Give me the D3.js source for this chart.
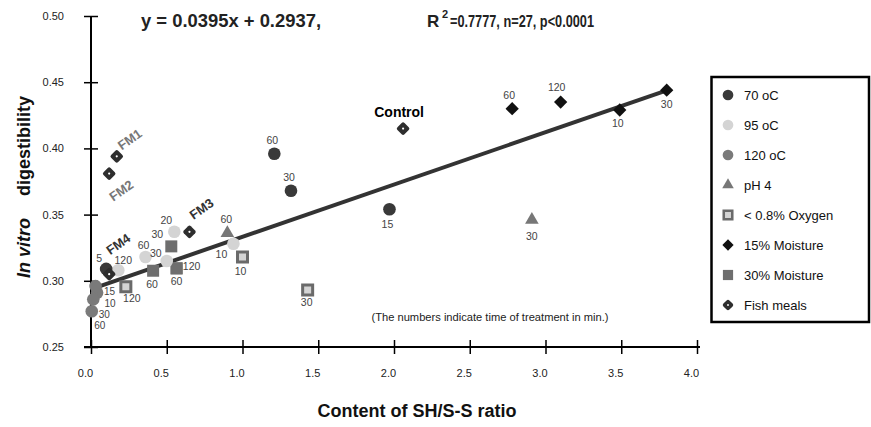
<!DOCTYPE html>
<html>
<head>
<meta charset="utf-8">
<script src="https://cdn.jsdelivr.net/npm/d3@7/dist/d3.min.js"></script>
<style>
	body { margin: 0; background: #fff; }
	svg { display: block; }
	text { font-family: "Liberation Sans", Arial, sans-serif; }
	.bold { font-weight: bold; }
</style>
</head>
<body>
<svg id="chart" width="871" height="427"></svg>
<script>
// categories of the legend
var categories = ["70 oC", "95 oC", "120 oC", "pH 4", "< 0.8% Oxygen", "15% Moisture", "30% Moisture", "Fish meals"];

// [SH/S-S ratio, in vitro digestibility, time label]
var pts70 = [[0.10, 0.309, "5"], [1.97, 0.354, "15"], [1.32, 0.368, "30"], [1.21, 0.396, "60"]];
var pts95 = [[0.94, 0.328, "10"], [0.55, 0.337, "20"], [0.50, 0.315, "30"], [0.36, 0.318, "60"], [0.18, 0.308, "120"]];
var pts120 = [[0.04, 0.291, "10"], [0.03, 0.296, "15"], [0.015, 0.286, "30"], [0.005, 0.277, "60"]];
var ptsPH4 = [[2.91, 0.346, "30"], [0.90, 0.336, "60"]];
var ptsOxygen = [[1.00, 0.318, "10"], [1.43, 0.293, "30"], [0.23, 0.2955, "120"]];
var ptsMoist15 = [[3.49, 0.429, "10"], [3.80, 0.444, "30"], [2.78, 0.430, "60"], [3.10, 0.435, "120"]];
var ptsMoist30 = [[0.53, 0.326, "30"], [0.41, 0.3076, "60"], [0.565, 0.3094, "60"], [0.565, 0.3094, "120"]];
var ptsFish = [[0.17, 0.394, "FM1"], [0.12, 0.381, "FM2"], [0.65, 0.337, "FM3"], [0.12, 0.305, "FM4"], [2.06, 0.415, "Control"]];

var xTicks = [0, 0.5, 1, 1.5, 2, 2.5, 3, 3.5, 4];
var yTicks = [0.25, 0.30, 0.35, 0.40, 0.45, 0.50];

// regression from the caption
var slope = 0.0395, intercept = 0.2937;
var fitRange = [0.05, 3.82];

// label offsets (px) for each point, same order as the arrays above
var labelOffsets = {
	"70 oC": [[-7, -7], [-2, 19], [-2, -10], [-2, -10]],
	"95 oC": [[-12, 14], [-8, -8], [-11, -4], [-2, -8], [5, -6]],
	"120 oC": [[13, 14], [14, 9], [11, 19], [8, 18]],
	"pH 4": [[0, 20], [-1, -10]],
	"< 0.8% Oxygen": [[-2, 18], [-1, 16], [6, 15]],
	"15% Moisture": [[-2, 17], [0, 18], [-3, -10], [-4, -11]],
	"30% Moisture": [[-14, -8], [-1, 17], [0, 17], [15, 2]],
	"Fish meals": [[13, -17], [12, 17], [12, -23], [9, -30], [-4, -12]]
};

var svg = d3.select("#chart");

var x = d3.scaleLinear().domain([0, 4]).range([91, 697]);
var y = d3.scaleLinear().domain([0.25, 0.50]).range([347, 16]);

// axes
var xAxis = svg.append("g")
	.attr("transform", "translate(0," + y(0.25) + ")")
	.call(d3.axisBottom(x).tickValues(xTicks).tickSize(7).tickPadding(15).tickFormat(d3.format(".1f")));
xAxis.select(".domain").attr("d", "M84,0H700").attr("stroke", "#000").attr("stroke-width", 2);
xAxis.selectAll(".tick line").attr("y1", -7).attr("stroke", "#000").attr("stroke-width", 1.5);
xAxis.selectAll(".tick text").attr("x", -6).attr("font-size", 11).attr("fill", "#222");

var yAxis = svg.append("g")
	.attr("transform", "translate(" + x(0) + ",0)")
	.call(d3.axisLeft(y).tickValues(yTicks).tickSize(7).tickPadding(20).tickFormat(d3.format(".2f")));
yAxis.select(".domain").attr("d", "M0," + y(0.25) + "V" + y(0.50)).attr("stroke", "#000").attr("stroke-width", 2);
yAxis.selectAll(".tick line").attr("x1", 7).attr("stroke", "#000").attr("stroke-width", 1.5);
yAxis.selectAll(".tick text").attr("font-size", 11).attr("fill", "#222");

// regression line
svg.append("path")
	.datum(fitRange)
	.attr("fill", "none")
	.attr("stroke", "#333")
	.attr("stroke-width", 4)
	.attr("d", d3.line()
		.x(function(d) { return x(d); })
		.y(function(d) { return y(intercept + slope * d); }));

// marker styles per category
var styles = {
	"70 oC": {shape: d3.symbolCircle, size: 125, fill: "#393939"},
	"95 oC": {shape: d3.symbolCircle, size: 125, fill: "#d4d4d4"},
	"120 oC": {shape: d3.symbolCircle, size: 125, fill: "#7a7a7a"},
	"pH 4": {shape: d3.symbolTriangle, size: 80, fill: "#777"},
	"< 0.8% Oxygen": {shape: d3.symbolSquare, size: 100, fill: "#d4d4d4", stroke: "#6a6a6a", sw: 3},
	"15% Moisture": {shape: d3.symbolSquare, size: 88, fill: "#111", rot: 45},
	"30% Moisture": {shape: d3.symbolSquare, size: 144, fill: "#6e6e6e"},
	"Fish meals": {fish: true}
};

var seriesData = [pts70, pts95, pts120, ptsPH4, ptsOxygen, ptsMoist15, ptsMoist30, ptsFish];
var drawOrder = [2, 6, 4, 1, 0, 3, 5, 7];

function drawMarker(g, st, scale) {
	if (st.fish) {
		g.append("rect")
			.attr("x", -5 * scale).attr("y", -5 * scale)
			.attr("width", 10 * scale).attr("height", 10 * scale)
			.attr("rx", 2).attr("ry", 2)
			.attr("transform", "rotate(45)")
			.attr("fill", "#2e2e2e");
		g.append("circle").attr("r", 1.1 * scale).attr("fill", "#fff");
		return;
	}
	g.append("path")
		.attr("d", d3.symbol().type(st.shape).size(st.size * scale * scale)())
		.attr("transform", st.rot ? "rotate(" + st.rot + ")" : null)
		.attr("fill", st.fill)
		.attr("stroke", st.stroke || "none")
		.attr("stroke-width", st.sw ? st.sw * scale : 0);
}

drawOrder.forEach(function(si) {
	var cat = categories[si];
	var grp = svg.append("g").classed("series", true);
	var marks = grp.selectAll("g.pt")
		.data(seriesData[si])
		.enter()
		.append("g")
		.classed("pt", true)
		.attr("transform", function(d) {
			return "translate(" + x(d[0]) + "," + y(d[1]) + ")";
		});
	marks.each(function() { drawMarker(d3.select(this), styles[cat], 1); });
});

// point labels on top
drawOrder.forEach(function(si) {
	var cat = categories[si];
	var offs = labelOffsets[cat];
	svg.append("g").selectAll("text")
		.data(seriesData[si])
		.enter()
		.append("text")
		.attr("text-anchor", "middle")
		.attr("transform", function(d, i) {
			var px = x(d[0]) + offs[i][0], py = y(d[1]) + offs[i][1];
			if (cat == "Fish meals" && d[2] != "Control") {
				return "translate(" + px + "," + py + ") rotate(-35)";
			}
			return "translate(" + px + "," + py + ")";
		})
		.attr("dy", function(d) { return (cat == "Fish meals" && d[2] != "Control") ? "0.35em" : 0; })
		.attr("font-size", function(d) {
			if (d[2] == "Control") return 14;
			if (cat == "Fish meals") return 13;
			return cat == "120 oC" ? 10 : 10.5;
		})
		.attr("font-weight", cat == "Fish meals" ? "bold" : null)
		.attr("fill", function(d) {
			if (d[2] == "Control") return "#000";
			if (d[2] == "FM1" || d[2] == "FM2") return "#777";
			if (cat == "Fish meals") return "#333";
			return "#444";
		})
		.text(function(d) { return d[2]; });
});

// note
svg.append("text")
	.attr("x", 490).attr("y", 321)
	.attr("text-anchor", "middle")
	.attr("font-size", 11.5)
	.attr("fill", "#222")
	.attr("textLength", 237)
	.attr("lengthAdjust", "spacingAndGlyphs")
	.text("(The numbers indicate time of treatment in min.)");

// equation caption
svg.append("text").classed("bold", true)
	.attr("x", 141).attr("y", 27)
	.attr("font-size", 18).attr("fill", "#222")
	.attr("textLength", 180)
	.attr("lengthAdjust", "spacingAndGlyphs")
	.text("y = 0.0395x + 0.2937,");

svg.append("text").classed("bold", true)
	.attr("x", 427).attr("y", 27)
	.attr("font-size", 17).attr("fill", "#222")
	.text("R");
svg.append("text").classed("bold", true)
	.attr("x", 442).attr("y", 18)
	.attr("font-size", 11).attr("fill", "#222")
	.text("2");
svg.append("text").classed("bold", true)
	.attr("x", 450).attr("y", 27)
	.attr("font-size", 17).attr("fill", "#222")
	.attr("textLength", 144)
	.attr("lengthAdjust", "spacingAndGlyphs")
	.text("=0.7777, n=27, p<0.0001");

// axis titles
svg.append("text").classed("bold", true)
	.attr("x", 417).attr("y", 417)
	.attr("text-anchor", "middle")
	.attr("font-size", 18)
	.attr("fill", "#111")
	.text("Content of SH/S-S ratio");

var yTitle = svg.append("text").classed("bold", true)
	.attr("transform", "translate(30,278) rotate(-90)")
	.attr("font-size", 18)
	.attr("fill", "#111");
yTitle.append("tspan").attr("font-style", "italic").text("In vitro");
yTitle.append("tspan").attr("dx", 22).text("digestibility");

// legend
var legend = svg.append("g");
legend.append("rect")
	.attr("x", 711.5).attr("y", 77)
	.attr("width", 157.5).attr("height", 245)
	.attr("fill", "#fff")
	.attr("stroke", "#000")
	.attr("stroke-width", 2.5);

var items = legend.selectAll("g.item")
	.data(categories)
	.enter()
	.append("g")
	.classed("item", true)
	.attr("transform", function(d, i) { return "translate(728," + (95 + i * 30) + ")"; });

items.each(function(d) { drawMarker(d3.select(this), styles[d], 0.85); });

items.append("text")
	.attr("x", 16)
	.attr("dy", "0.35em")
	.attr("font-size", 13)
	.attr("fill", "#111")
	.text(function(d) { return d; });
</script>
</body>
</html>
